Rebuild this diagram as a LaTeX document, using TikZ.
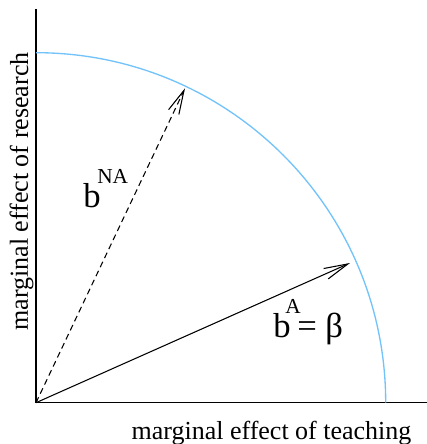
\documentclass[tikz,border=0pt]{standalone}
\usepackage{fontspec}
\setmainfont{Liberation Serif}
\usetikzlibrary{arrows.meta}
\definecolor{skyline}{RGB}{115,195,250}
\begin{document}
\begin{tikzpicture}[x=0.75pt,y=0.75pt,
  axis/.style={line width=1.1pt},
  vec/.style={line width=0.8pt,-{Straight Barb[length=18pt,width=8.5pt,line width=0.8pt]}},
  frontier/.style={line width=1pt,draw=skyline},
  axlbl/.style={inner sep=0pt,font=\fontsize{19.5}{22}\selectfont},
  biglbl/.style={inner sep=0pt,anchor=base west,font=\fontsize{26}{30}\selectfont},
  suplbl/.style={inner sep=0pt,anchor=base west,font=\fontsize{16}{18}\selectfont}]
\useasboundingbox (0,0) rectangle (427,444);
\coordinate (O) at (36,41.3);
\coordinate (ytop) at (36,435);
\coordinate (xend) at (427,41.3);
\coordinate (tNA) at (185,355.7);
\coordinate (tA) at (350,181);
\draw[axis] (ytop) -- (O) -- (xend);
\draw[frontier] (36,391.3) arc[start angle=90,end angle=0,x radius=349.7,y radius=350];
\draw[vec,dash pattern=on 4.5pt off 3pt] (O) -- (tNA);
\draw[vec] (O) -- (tA);
\node[axlbl,anchor=base] (xl) at (271.5,5) {marginal effect of teaching};
\node[axlbl,anchor=base,rotate=89.9] (yl) at (28,252.5) {marginal effect of research};
\node[biglbl] (bNA) at (83,236) {b};
\node[suplbl] (sNA) at (97,260) {NA};
\node[biglbl] (bA) at (273,107) {b};
\node[suplbl] (sA) at (285,130) {A};
\node[biglbl] (eq) at (297,107) {= β};
\end{tikzpicture}
\end{document}
